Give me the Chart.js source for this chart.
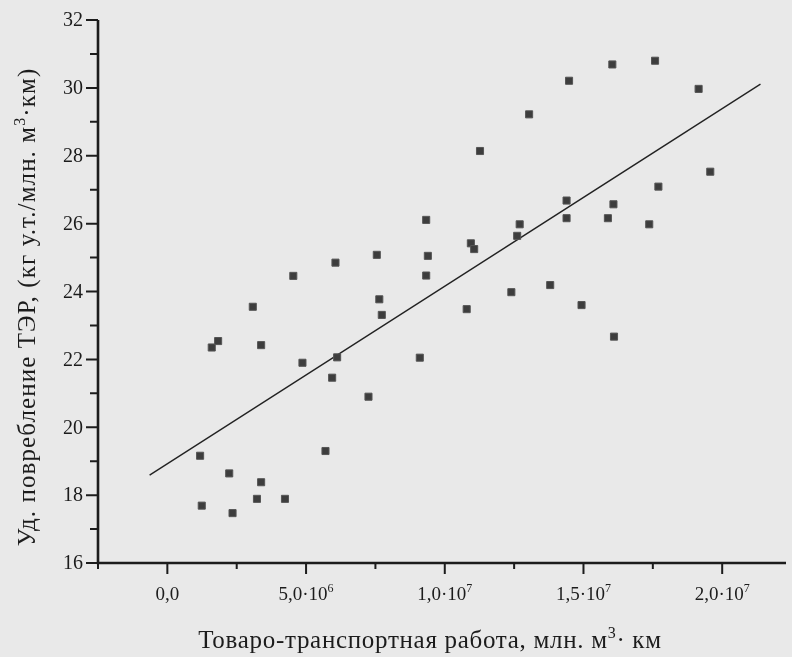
<!DOCTYPE html>
<html>
<head>
<meta charset="utf-8">
<script src="https://cdn.jsdelivr.net/npm/chart.js@4/dist/chart.umd.min.js"></script>
<style>
  html, body { margin: 0; padding: 0; background: #e9e9e9; }
  #wrap { width: 792px; height: 657px; }
</style>
</head>
<body>
<div id="wrap"><canvas id="chart" width="792" height="657"></canvas></div>
<script>
// Measured points: transport work (m3*km) vs specific fuel consumption
const xValues = [
    3.08e6, 4.54e6, 6.06e6, 7.55e6, 7.64e6, 7.73e6, 1.60e6, 1.83e6, 3.38e6, 4.87e6,
    6.12e6, 5.94e6, 7.25e6, 1.18e6, 5.70e6, 2.23e6, 3.38e6, 1.24e6, 2.35e6, 3.23e6,
    4.24e6, 16.04e6, 17.58e6, 14.48e6, 19.15e6, 13.04e6, 11.27e6, 19.57e6, 17.70e6, 14.39e6,
    16.08e6, 14.39e6, 15.88e6, 17.37e6, 9.33e6, 12.70e6, 12.61e6, 10.94e6, 11.06e6, 9.39e6,
    9.33e6, 13.80e6, 12.40e6, 14.93e6, 10.79e6, 16.10e6, 9.10e6
];
const yValues = [
    23.55, 24.46, 24.85, 25.08, 23.77, 23.31, 22.35, 22.54, 22.42, 21.90,
    22.06, 21.46, 20.90, 19.16, 19.30, 18.64, 18.38, 17.69, 17.47, 17.89,
    17.89, 30.69, 30.80, 30.21, 29.97, 29.22, 28.14, 27.53, 27.09, 26.68,
    26.57, 26.16, 26.16, 25.98, 26.11, 25.98, 25.64, 25.42, 25.25, 25.05,
    24.47, 24.19, 23.98, 23.60, 23.48, 22.67, 22.05
];

// Regression line end points
const fitX = [-0.64e6, 21.38e6];
const fitY = [18.59, 30.11];

// Axes
const xMin = -2.5e6, xMax = 2.23e7;
const yMin = 16, yMax = 32;
const xMajorTicks = [0, 5e6, 1e7, 1.5e7, 2e7];
const xMajorLabels = [['0,0', ''], ['5,0·10', '6'], ['1,0·10', '7'], ['1,5·10', '7'], ['2,0·10', '7']];
const xMinorTicks = [-2.5e6, 2.5e6, 7.5e6, 1.25e7, 1.75e7];
const yMajorTicks = [16, 18, 20, 22, 24, 26, 28, 30, 32];
const yMinorTicks = [17, 19, 21, 23, 25, 27, 29, 31];

const xTitle = [['Товаро-транспортная работа, млн. м', false], ['3', true], ['· км', false]];
const yTitle = [['Уд. повребление ТЭР, (кг у.т./млн. м', false], ['3', true], ['·км)', false]];

const FONT = '"Liberation Serif", "DejaVu Serif", serif';
const INK = '#1c1c1c';

/**
 * Draw text made of normal and superscript parts
 */
function drawRich(ctx, parts, x, y, size, align, spacing) {
    ctx.letterSpacing = (spacing || 0) + 'px';
    let total = 0;
    parts.forEach(([t, sup]) => {
        ctx.font = (sup ? Math.round(size * 0.62) : size) + 'px ' + FONT;
        total += ctx.measureText(t).width;
    });
    let cx = align === 'center' ? x - total / 2 : x;
    parts.forEach(([t, sup]) => {
        ctx.font = (sup ? Math.round(size * 0.62) : size) + 'px ' + FONT;
        ctx.fillText(t, cx, sup ? y - size * 0.42 : y);
        cx += ctx.measureText(t).width;
    });
    ctx.letterSpacing = '0px';
}

const axesPlugin = {
    id: 'axesPlugin',
    afterDraw(chart) {
        const ctx = chart.ctx;
        const a = chart.chartArea;
        const xs = chart.scales.x;
        const ys = chart.scales.y;

        ctx.save();
        ctx.strokeStyle = INK;
        ctx.fillStyle = INK;

        // Axis lines
        ctx.lineWidth = 2.6;
        ctx.beginPath();
        ctx.moveTo(a.left, a.top);
        ctx.lineTo(a.left, a.bottom);
        ctx.lineTo(a.right, a.bottom);
        ctx.stroke();

        // Ticks
        ctx.lineWidth = 2;
        ctx.beginPath();
        yMajorTicks.forEach(v => {
            const py = ys.getPixelForValue(v);
            ctx.moveTo(a.left - 12, py);
            ctx.lineTo(a.left, py);
        });
        yMinorTicks.forEach(v => {
            const py = ys.getPixelForValue(v);
            ctx.moveTo(a.left - 8, py);
            ctx.lineTo(a.left, py);
        });
        xMajorTicks.forEach(v => {
            const px = xs.getPixelForValue(v);
            ctx.moveTo(px, a.bottom);
            ctx.lineTo(px, a.bottom + 11);
        });
        xMinorTicks.forEach(v => {
            const px = xs.getPixelForValue(v);
            ctx.moveTo(px, a.bottom);
            ctx.lineTo(px, a.bottom + 6);
        });
        ctx.stroke();

        // Y tick labels
        ctx.font = '20px ' + FONT;
        ctx.textAlign = 'right';
        ctx.textBaseline = 'middle';
        yMajorTicks.forEach(v => {
            ctx.fillText(String(v), a.left - 15, ys.getPixelForValue(v) + 1);
        });

        // X tick labels
        ctx.textAlign = 'left';
        ctx.textBaseline = 'alphabetic';
        xMajorTicks.forEach((v, i) => {
            const parts = [[xMajorLabels[i][0], false]];
            if (xMajorLabels[i][1]) parts.push([xMajorLabels[i][1], true]);
            drawRich(ctx, parts, xs.getPixelForValue(v), a.bottom + 37, 19, 'center');
        });

        // Axis titles
        drawRich(ctx, xTitle, 430, 648, 25, 'center', 0.7);
        ctx.save();
        ctx.translate(35, 307);
        ctx.rotate(-Math.PI / 2);
        drawRich(ctx, yTitle, 0, 0, 25, 'center', 1.1);
        ctx.restore();

        ctx.restore();
    }
};

function makeChart() {
    const ctx = document.getElementById('chart').getContext('2d');
    new Chart(ctx, {
        type: 'scatter',
        data: {
            datasets: [
                {
                    label: 'points',
                    data: xValues.map((x, i) => ({ x: x, y: yValues[i] })),
                    pointStyle: 'rect',
                    pointRadius: 5,
                    backgroundColor: '#3d3d3d',
                    borderColor: '#555555',
                    borderWidth: 1
                },
                {
                    type: 'line',
                    label: 'fit',
                    data: fitX.map((x, i) => ({ x: x, y: fitY[i] })),
                    borderColor: '#222222',
                    borderWidth: 1.4,
                    pointRadius: 0,
                    fill: false
                }
            ]
        },
        options: {
            responsive: false,
            animation: false,
            layout: { padding: { top: 20, right: 0, left: 0, bottom: 0 } },
            plugins: {
                legend: { display: false },
                tooltip: { enabled: false }
            },
            scales: {
                x: {
                    type: 'linear',
                    min: xMin,
                    max: xMax,
                    grid: { display: false },
                    border: { display: false },
                    ticks: { display: false },
                    afterFit: scale => { scale.height = 657 - 563; }
                },
                y: {
                    type: 'linear',
                    min: yMin,
                    max: yMax,
                    grid: { display: false },
                    border: { display: false },
                    ticks: { display: false },
                    afterFit: scale => { scale.width = 98; }
                }
            }
        },
        plugins: [axesPlugin]
    });
}

document.fonts.load('19px "Liberation Serif"').then(makeChart, makeChart);
</script>
</body>
</html>
